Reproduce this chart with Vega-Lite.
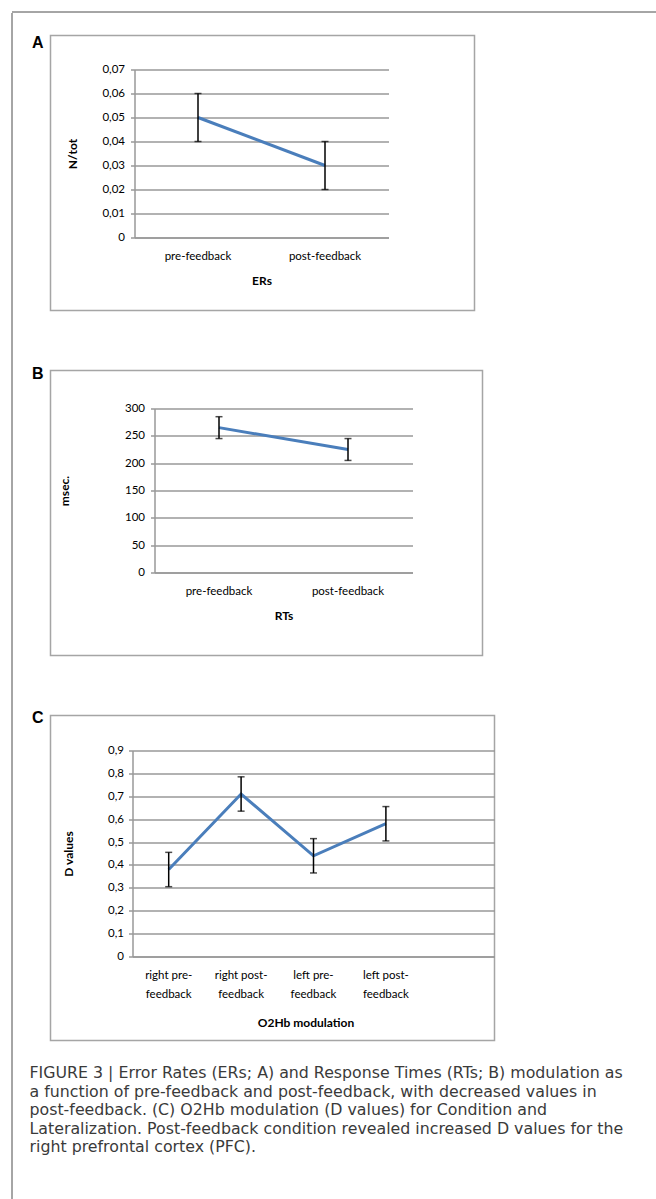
{
  "$schema": "https://vega.github.io/schema/vega-lite/v6.json",
  "padding": {"left": 10.5, "top": 10.5, "right": 0, "bottom": 0},
  "autosize": {"type": "pad"},
  "background": "white",
  "bounds": "flush",
  "spacing": 0,
  "config": {
    "view": {"stroke": "#a5a5a5", "strokeWidth": 1.5},
    "axis": {
      "labelFont": "Lato", "labelFontSize": 11.5, "labelColor": "#000",
      "titleFont": "Lato", "titleFontSize": 12, "titleFontWeight": "bold", "titleColor": "#000",
      "domainColor": "#999", "domainWidth": 1.5,
      "gridColor": "#999", "gridWidth": 1.5,
      "tickColor": "#999", "tickWidth": 1.5
    }
  },
  "vconcat": [
    {
      "width": 660, "height": 0.01,
      "data": {"values": []},
      "mark": "point",
      "encoding": {},
      "view": {"stroke": "#888", "strokeWidth": 1}
    },
    {
      "bounds": "flush",
      "spacing": 38,
      "hconcat": [
        {
          "width": 0.01, "height": 1200,
          "data": {"values": []},
          "mark": "point",
          "encoding": {},
          "view": {"stroke": "#888", "strokeWidth": 1}
        },
        {
          "bounds": "flush",
          "spacing": 22,
          "vconcat": [
            {
              "width": 1, "height": 0.01,
              "data": {"values": []},
              "mark": "point",
              "encoding": {},
              "view": {"stroke": null}
            },
            {
              "bounds": "flush",
              "spacing": 60,
              "title": {
                "text": [
                  "FIGURE 3 | Error Rates (ERs; A) and Response Times (RTs; B) modulation as",
                  "a function of pre-feedback and post-feedback, with decreased values in",
                  "post-feedback. (C) O2Hb modulation (D values) for Condition and",
                  "Lateralization. Post-feedback condition revealed increased D values for the",
                  "right prefrontal cortex (PFC)."
                ],
                "orient": "bottom", "anchor": "start", "frame": "group", "align": "left",
                "dx": -21, "offset": 25,
                "font": "DejaVu Sans", "fontSize": 15.8, "fontWeight": "normal", "color": "#3a3a3a", "lineHeight": 18.5
              },
              "vconcat": [
                {
                  "width": 424, "height": 275,
                  "title": {"text": "A", "anchor": "start", "frame": "group", "align": "right", "baseline": "middle", "dx": -7, "offset": -23, "font": "Liberation Sans", "fontSize": 16, "fontWeight": "bold", "color": "#000"},
                  "data": {"values": [
                    {"cond": "pre-feedback", "value": 0.05, "lo": 0.04, "hi": 0.06},
                    {"cond": "post-feedback", "value": 0.03, "lo": 0.02, "hi": 0.04}
                  ]},
                  "encoding": {
                    "x": {
                      "field": "cond", "type": "nominal", "sort": null,
                      "scale": {"type": "band", "domain": ["pre-feedback", "post-feedback"], "range": [84, 338], "paddingInner": 0, "paddingOuter": 0},
                      "axis": {"offset": -73, "grid": false, "ticks": false, "labelAngle": 0, "labelPadding": 13, "title": "ERs", "titleY": 43, "titleBaseline": "middle"}
                    }
                  },
                  "layer": [
                    {
                      "mark": {"type": "line", "color": "#4a7ebb", "strokeWidth": 3},
                      "encoding": {
                        "y": {
                          "field": "value", "type": "quantitative", "title": "N/tot",
                          "scale": {"domain": [0, 0.07], "range": [202, 34], "nice": false},
                          "axis": {"offset": -84, "grid": true, "values": [0, 0.01, 0.02, 0.03, 0.04, 0.05, 0.06, 0.07], "labelExpr": "datum.value == 0 ? '0' : replace(format(datum.value, '.2f'), '.', ',')", "tickSize": 4, "labelPadding": 6, "titleX": -62, "titleBaseline": "middle"}
                        }
                      }
                    },
                    {
                      "mark": {"type": "rule", "color": "#000", "strokeWidth": 1.5},
                      "encoding": {
                        "y": {"field": "lo", "type": "quantitative", "title": "N/tot",
                          "axis": {"offset": -84, "grid": true, "values": [0, 0.01, 0.02, 0.03, 0.04, 0.05, 0.06, 0.07], "labelExpr": "datum.value == 0 ? '0' : replace(format(datum.value, '.2f'), '.', ',')", "tickSize": 4, "labelPadding": 6, "titleX": -62, "titleBaseline": "middle"}},
                        "y2": {"field": "hi"}
                      }
                    },
                    {
                      "mark": {"type": "tick", "color": "#000", "thickness": 1.5, "size": 7},
                      "encoding": {"y": {"field": "lo", "type": "quantitative", "title": "N/tot",
                        "axis": {"offset": -84, "grid": true, "values": [0, 0.01, 0.02, 0.03, 0.04, 0.05, 0.06, 0.07], "labelExpr": "datum.value == 0 ? '0' : replace(format(datum.value, '.2f'), '.', ',')", "tickSize": 4, "labelPadding": 6, "titleX": -62, "titleBaseline": "middle"}}}
                    },
                    {
                      "mark": {"type": "tick", "color": "#000", "thickness": 1.5, "size": 7},
                      "encoding": {"y": {"field": "hi", "type": "quantitative", "title": "N/tot",
                        "axis": {"offset": -84, "grid": true, "values": [0, 0.01, 0.02, 0.03, 0.04, 0.05, 0.06, 0.07], "labelExpr": "datum.value == 0 ? '0' : replace(format(datum.value, '.2f'), '.', ',')", "tickSize": 4, "labelPadding": 6, "titleX": -62, "titleBaseline": "middle"}}}
                    }
                  ]
                },
                {
                  "width": 432, "height": 285,
                  "title": {"text": "B", "anchor": "start", "frame": "group", "align": "right", "baseline": "middle", "dx": -7, "offset": -19, "font": "Liberation Sans", "fontSize": 16, "fontWeight": "bold", "color": "#000"},
                  "data": {"values": [
                    {"cond": "pre-feedback", "value": 265, "lo": 245, "hi": 285},
                    {"cond": "post-feedback", "value": 225, "lo": 205, "hi": 245}
                  ]},
                  "encoding": {
                    "x": {
                      "field": "cond", "type": "nominal", "sort": null,
                      "scale": {"type": "band", "domain": ["pre-feedback", "post-feedback"], "range": [104, 362], "paddingInner": 0, "paddingOuter": 0},
                      "axis": {"offset": -83, "grid": false, "ticks": false, "labelAngle": 0, "labelPadding": 13, "title": "RTs", "titleY": 43, "titleBaseline": "middle"}
                    }
                  },
                  "layer": [
                    {
                      "mark": {"type": "line", "color": "#4a7ebb", "strokeWidth": 3},
                      "encoding": {
                        "y": {
                          "field": "value", "type": "quantitative", "title": "msec.",
                          "scale": {"domain": [0, 300], "range": [202, 38], "nice": false},
                          "axis": {"offset": -104, "grid": true, "values": [0, 50, 100, 150, 200, 250, 300], "tickSize": 4, "labelPadding": 6, "titleX": -90, "titleBaseline": "middle"}
                        }
                      }
                    },
                    {
                      "mark": {"type": "rule", "color": "#000", "strokeWidth": 1.5},
                      "encoding": {
                        "y": {"field": "lo", "type": "quantitative", "title": "msec.",
                          "axis": {"offset": -104, "grid": true, "values": [0, 50, 100, 150, 200, 250, 300], "tickSize": 4, "labelPadding": 6, "titleX": -90, "titleBaseline": "middle"}},
                        "y2": {"field": "hi"}
                      }
                    },
                    {
                      "mark": {"type": "tick", "color": "#000", "thickness": 1.5, "size": 7},
                      "encoding": {"y": {"field": "lo", "type": "quantitative", "title": "msec.",
                        "axis": {"offset": -104, "grid": true, "values": [0, 50, 100, 150, 200, 250, 300], "tickSize": 4, "labelPadding": 6, "titleX": -90, "titleBaseline": "middle"}}}
                    },
                    {
                      "mark": {"type": "tick", "color": "#000", "thickness": 1.5, "size": 7},
                      "encoding": {"y": {"field": "hi", "type": "quantitative", "title": "msec.",
                        "axis": {"offset": -104, "grid": true, "values": [0, 50, 100, 150, 200, 250, 300], "tickSize": 4, "labelPadding": 6, "titleX": -90, "titleBaseline": "middle"}}}
                    }
                  ]
                },
                {
                  "width": 444, "height": 325,
                  "title": {"text": "C", "anchor": "start", "frame": "group", "align": "right", "baseline": "middle", "dx": -7, "offset": -18, "font": "Liberation Sans", "fontSize": 16, "fontWeight": "bold", "color": "#000"},
                  "data": {"values": [
                    {"cond": "right pre-feedback", "value": 0.38, "lo": 0.305, "hi": 0.455},
                    {"cond": "right post-feedback", "value": 0.71, "lo": 0.635, "hi": 0.785},
                    {"cond": "left pre-feedback", "value": 0.44, "lo": 0.365, "hi": 0.515},
                    {"cond": "left post-feedback", "value": 0.58, "lo": 0.505, "hi": 0.655}
                  ]},
                  "encoding": {
                    "x": {
                      "field": "cond", "type": "nominal", "sort": null,
                      "scale": {"type": "band", "domain": ["right pre-feedback", "right post-feedback", "left pre-feedback", "left post-feedback", "(empty)"], "range": [82, 444], "paddingInner": 0, "paddingOuter": 0},
                      "axis": {"offset": -84, "grid": false, "ticks": false, "labelAngle": 0, "labelPadding": 13, "labelLineHeight": 19, "labelExpr": "datum.label == '(empty)' ? '' : [slice(datum.label, 0, indexof(datum.label, '-') + 1), slice(datum.label, indexof(datum.label, '-') + 1)]", "title": "O2Hb modulation", "titleX": 255, "titleY": 66, "titleBaseline": "middle"}
                    }
                  },
                  "layer": [
                    {
                      "mark": {"type": "line", "color": "#4a7ebb", "strokeWidth": 3},
                      "encoding": {
                        "y": {
                          "field": "value", "type": "quantitative", "title": "D values",
                          "scale": {"domain": [0, 0.9], "range": [241, 35], "nice": false},
                          "axis": {"offset": -82, "grid": true, "values": [0, 0.1, 0.2, 0.3, 0.4, 0.5, 0.6, 0.7, 0.8, 0.9], "labelExpr": "datum.value == 0 ? '0' : replace(format(datum.value, '.1f'), '.', ',')", "tickSize": 4, "labelPadding": 5, "titleX": -64, "titleBaseline": "middle"}
                        }
                      }
                    },
                    {
                      "mark": {"type": "rule", "color": "#000", "strokeWidth": 1.5},
                      "encoding": {
                        "y": {"field": "lo", "type": "quantitative", "title": "D values",
                          "axis": {"offset": -82, "grid": true, "values": [0, 0.1, 0.2, 0.3, 0.4, 0.5, 0.6, 0.7, 0.8, 0.9], "labelExpr": "datum.value == 0 ? '0' : replace(format(datum.value, '.1f'), '.', ',')", "tickSize": 4, "labelPadding": 5, "titleX": -64, "titleBaseline": "middle"}},
                        "y2": {"field": "hi"}
                      }
                    },
                    {
                      "mark": {"type": "tick", "color": "#000", "thickness": 1.5, "size": 7},
                      "encoding": {"y": {"field": "lo", "type": "quantitative", "title": "D values",
                        "axis": {"offset": -82, "grid": true, "values": [0, 0.1, 0.2, 0.3, 0.4, 0.5, 0.6, 0.7, 0.8, 0.9], "labelExpr": "datum.value == 0 ? '0' : replace(format(datum.value, '.1f'), '.', ',')", "tickSize": 4, "labelPadding": 5, "titleX": -64, "titleBaseline": "middle"}}}
                    },
                    {
                      "mark": {"type": "tick", "color": "#000", "thickness": 1.5, "size": 7},
                      "encoding": {"y": {"field": "hi", "type": "quantitative", "title": "D values",
                        "axis": {"offset": -82, "grid": true, "values": [0, 0.1, 0.2, 0.3, 0.4, 0.5, 0.6, 0.7, 0.8, 0.9], "labelExpr": "datum.value == 0 ? '0' : replace(format(datum.value, '.1f'), '.', ',')", "tickSize": 4, "labelPadding": 5, "titleX": -64, "titleBaseline": "middle"}}}
                    }
                  ]
                }
              ]
            }
          ]
        }
      ]
    }
  ]
}
